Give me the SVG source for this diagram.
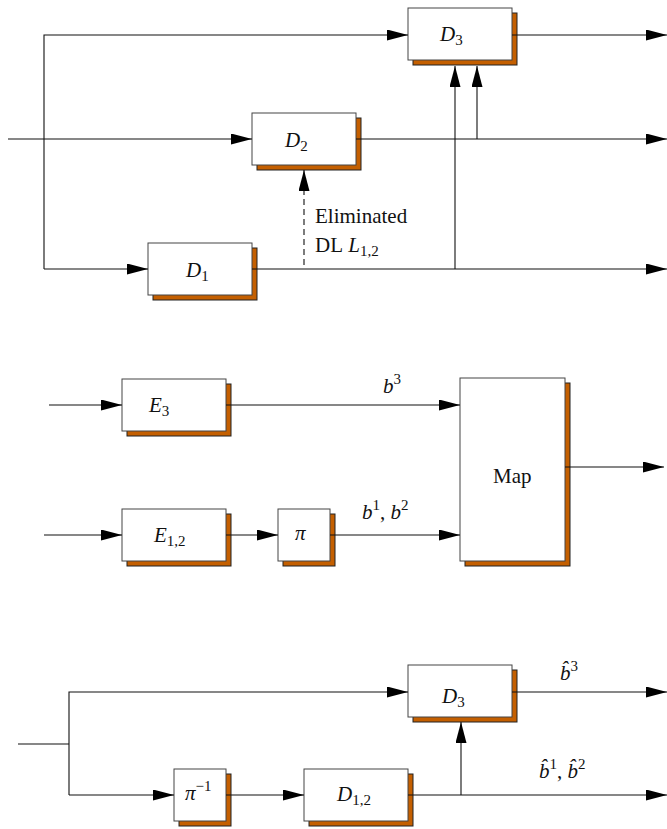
<svg xmlns="http://www.w3.org/2000/svg" width="667" height="829" viewBox="0 0 667 829">
<style>
.box{fill:#fff;stroke:#444;stroke-width:1}
.sh{fill:#c45f00;stroke:#222;stroke-width:1}
.ln{stroke:#111;stroke-width:1.1;fill:none}
.dash{stroke-dasharray:6,4}
.m{font-family:"Liberation Serif",serif;font-size:21px;font-style:italic;fill:#111}
.r{font-style:normal}
.s{font-size:15px;font-style:normal}
</style>
<defs>
<marker id="ah" markerUnits="userSpaceOnUse" markerWidth="21" markerHeight="11" refX="21" refY="5.5" orient="auto">
<path d="M0,0 L21,5.5 L0,11 z" fill="#000"/>
</marker>
</defs>
<rect width="667" height="829" fill="#fff"/>

<g id="D3top"><rect class="sh" x="413" y="13" width="104" height="52"/><rect class="box" x="408" y="8" width="104" height="52"/>
<text class="m" x="440" y="41">D<tspan class="s" dy="4">3</tspan></text></g>
<g id="D2"><rect class="sh" x="257" y="118" width="104" height="52"/><rect class="box" x="252" y="113" width="104" height="52"/>
<text class="m" x="285" y="147">D<tspan class="s" dy="4">2</tspan></text></g>
<g id="D1"><rect class="sh" x="153" y="248" width="104" height="52"/><rect class="box" x="148" y="243" width="104" height="52"/>
<text class="m" x="186" y="277">D<tspan class="s" dy="4">1</tspan></text></g>

<g id="E3"><rect class="sh" x="127" y="384" width="104" height="52"/><rect class="box" x="122" y="379" width="104" height="52"/>
<text class="m" x="149" y="412">E<tspan class="s" dy="4">3</tspan></text></g>
<g id="E12"><rect class="sh" x="127" y="514" width="104" height="52"/><rect class="box" x="122" y="509" width="104" height="52"/>
<text class="m" x="154" y="542">E<tspan class="s" dy="4">1,2</tspan></text></g>
<g id="pi"><rect class="sh" x="283" y="514" width="52" height="52"/><rect class="box" x="278" y="509" width="52" height="52"/>
<text class="m" x="295" y="540">π</text></g>
<g id="Map"><rect class="sh" x="465" y="383" width="105" height="183"/><rect class="box" x="460" y="378" width="105" height="183"/>
<text class="m r" x="493" y="483">Map</text></g>

<g id="D3bot"><rect class="sh" x="413" y="670" width="104" height="52"/><rect class="box" x="408" y="665" width="104" height="52"/>
<text class="m" x="442" y="703">D<tspan class="s" dy="4">3</tspan></text></g>
<g id="piinv"><rect class="sh" x="179" y="774" width="52" height="52"/><rect class="box" x="174" y="769" width="52" height="52"/>
<text class="m" x="185" y="800">π<tspan class="s" dy="-9">−1</tspan></text></g>
<g id="D12"><rect class="sh" x="309" y="774" width="104" height="52"/><rect class="box" x="304" y="769" width="104" height="52"/>
<text class="m" x="337" y="801">D<tspan class="s" dy="4">1,2</tspan></text></g>

<g id="connectors">
<path class="ln" d="M44,269 V35 H408" marker-end="url(#ah)"/>
<path class="ln" d="M44,269 H148" marker-end="url(#ah)"/>
<path class="ln" d="M512,35 H667" marker-end="url(#ah)"/>
<path class="ln" d="M8,139 H252" marker-end="url(#ah)"/>
<path class="ln" d="M356,139 H667" marker-end="url(#ah)"/>
<path class="ln" d="M252,269 H667" marker-end="url(#ah)"/>
<path class="ln" d="M455,269 V66" marker-end="url(#ah)"/>
<path class="ln" d="M477,139 V66" marker-end="url(#ah)"/>
<path class="ln dash" d="M304,265 V170" marker-end="url(#ah)"/>

<path class="ln" d="M49,405 H122" marker-end="url(#ah)"/>
<path class="ln" d="M226,405 H460" marker-end="url(#ah)"/>
<path class="ln" d="M44,535 H122" marker-end="url(#ah)"/>
<path class="ln" d="M226,535 H278" marker-end="url(#ah)"/>
<path class="ln" d="M330,535 H460" marker-end="url(#ah)"/>
<path class="ln" d="M565,467 H664" marker-end="url(#ah)"/>

<path class="ln" d="M18,744 H69"/>
<path class="ln" d="M69,795 V692 H408" marker-end="url(#ah)"/>
<path class="ln" d="M69,795 H174" marker-end="url(#ah)"/>
<path class="ln" d="M226,795 H304" marker-end="url(#ah)"/>
<path class="ln" d="M512,692 H667" marker-end="url(#ah)"/>
<path class="ln" d="M408,795 H667" marker-end="url(#ah)"/>
<path class="ln" d="M461,795 V722" marker-end="url(#ah)"/>
</g>

<g id="labels">
<text class="m r" x="315" y="223">Eliminated</text>
<text class="m" x="315" y="252"><tspan class="r">DL</tspan> L<tspan class="s" dy="4">1,2</tspan></text>
<text class="m" x="383" y="393">b<tspan class="s" dy="-9">3</tspan></text>
<text class="m" x="362" y="519">b<tspan class="s" dy="-9">1</tspan><tspan class="r" dy="9">, </tspan>b<tspan class="s" dy="-9">2</tspan></text>
<text class="m" x="560" y="680">b̂<tspan class="s" dy="-9">3</tspan></text>
<text class="m" x="539" y="778">b̂<tspan class="s" dy="-9">1</tspan><tspan class="r" dy="9">, </tspan>b̂<tspan class="s" dy="-9">2</tspan></text>
</g>
</svg>
